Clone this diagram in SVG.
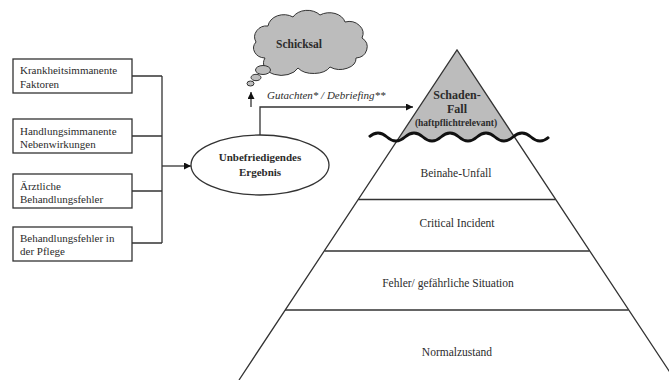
<svg xmlns="http://www.w3.org/2000/svg" width="669" height="380" viewBox="0 0 669 380">
<defs>
<style>
.t{font-family:"Liberation Serif","Times New Roman",serif;fill:#2b2b2b}
.box{fill:#fff;stroke:#333;stroke-width:1.3}
.ln{fill:none;stroke:#333;stroke-width:1.3}
.bt{font-size:11px}
.b{font-weight:bold}
</style>
<marker id="ah" viewBox="0 0 10 10" refX="10" refY="5" markerWidth="9" markerHeight="7" markerUnits="userSpaceOnUse" orient="auto">
<path d="M0,0 L10,5 L0,10 Z" fill="#111"/>
</marker>
<clipPath id="tri"><polygon points="457,50 239,380 675,380"/></clipPath>
</defs>
<rect width="669" height="380" fill="#fff"/>

<g id="connectors">
<path class="ln" d="M132,76 H162 M132,136 H162 M132,191 H162 M132,243 H162 M162,76 V243"/>
<path class="ln" d="M162,166 H191" marker-end="url(#ah)"/>
<path class="ln" d="M260,135 V107 H413" marker-end="url(#ah)"/>
<path class="ln" d="M251,107 V92" marker-end="url(#ah)"/>
<text class="t" x="267" y="99" font-size="11px" font-style="italic">Gutachten* / Debriefing**</text>
</g>

<g id="box1"><rect class="box" x="13" y="59" width="119" height="34"/>
<text class="t bt" x="20" y="74">Krankheitsimmanente</text><text class="t bt" x="20" y="87.5">Faktoren</text></g>
<g id="box2"><rect class="box" x="13" y="119" width="119" height="34"/>
<text class="t bt" x="20" y="134.5">Handlungsimmanente</text><text class="t bt" x="20" y="147.5">Nebenwirkungen</text></g>
<g id="box3"><rect class="box" x="13" y="174" width="119" height="34"/>
<text class="t bt" x="20" y="189.5">Ärztliche</text><text class="t bt" x="20" y="202.5">Behandlungsfehler</text></g>
<g id="box4"><rect class="box" x="13" y="227" width="119" height="34"/>
<text class="t bt" x="20" y="241.5">Behandlungsfehler in</text><text class="t bt" x="20" y="254.5">der Pflege</text></g>

<g id="ergebnis"><ellipse cx="260" cy="165" rx="69" ry="30" fill="#fff" stroke="#333" stroke-width="1.3"/>
<text class="t b" x="260" y="161" font-size="11px" text-anchor="middle">Unbefriedigendes</text>
<text class="t b" x="260" y="176" font-size="11px" text-anchor="middle">Ergebnis</text></g>

<g id="schicksal">
<path d="M265,58 A12,10 0 0 1 256,42 A12,11 0 0 1 268,26 A16,13 0 0 1 293,17 A16,12 0 0 1 320,15 A16,12 0 0 1 345,22 A14,12 0 0 1 362,38 A12,11 0 0 1 356,58 A16,11 0 0 1 330,67 A18,11 0 0 1 298,68 A16,11 0 0 1 265,58 Z" fill="#bcbcbc" stroke="#333" stroke-width="1"/>
<ellipse cx="263" cy="70" rx="7.5" ry="4.5" fill="#bcbcbc" stroke="#333" stroke-width="1"/>
<ellipse cx="256" cy="77.5" rx="5" ry="3.2" fill="#bcbcbc" stroke="#333" stroke-width="1"/>
<ellipse cx="250.5" cy="83.5" rx="3.5" ry="2.5" fill="#bcbcbc" stroke="#333" stroke-width="1"/>
<text class="t b" x="299" y="47.5" font-size="11.5px" text-anchor="middle">Schicksal</text>
</g>

<g id="pyramid">
<path d="M340,40 H580 V137 H549 q-9,8 -18,0 t-18,0 t-18,0 t-18,0 t-18,0 t-18,0 t-18,0 t-18,0 t-18,0 t-18,0 L340,137 Z" fill="#bcbcbc" clip-path="url(#tri)"/>
<path class="ln" d="M239,380 L457,50 L675,380"/>
<path class="ln" d="M358.5,199.5 H555.5 M324.5,251 H589.5 M285,310 H628.5"/>
<path d="M369,137 q9,-8 18,0 t18,0 t18,0 t18,0 t18,0 t18,0 t18,0 t18,0 t18,0 t18,0" fill="none" stroke="#111" stroke-width="2.8"/>
</g>
<g id="schadenfall">
<text class="t b" x="457" y="99" font-size="12px" text-anchor="middle">Schaden-</text>
<text class="t b" x="457" y="112.5" font-size="12px" text-anchor="middle">Fall</text>
<text class="t b" x="456" y="125.5" font-size="9.5px" text-anchor="middle">(haftpflichtrelevant)</text>
</g>
<g id="beinahe"><text class="t" x="456" y="177" font-size="11.5px" text-anchor="middle">Beinahe-Unfall</text></g>
<g id="critical"><text class="t" x="457" y="227" font-size="11.5px" text-anchor="middle">Critical Incident</text></g>
<g id="fehler"><text class="t" x="448" y="287" font-size="11.5px" text-anchor="middle">Fehler/ gefährliche Situation</text></g>
<g id="normal"><text class="t" x="457" y="356" font-size="11.5px" text-anchor="middle">Normalzustand</text></g>
</svg>
